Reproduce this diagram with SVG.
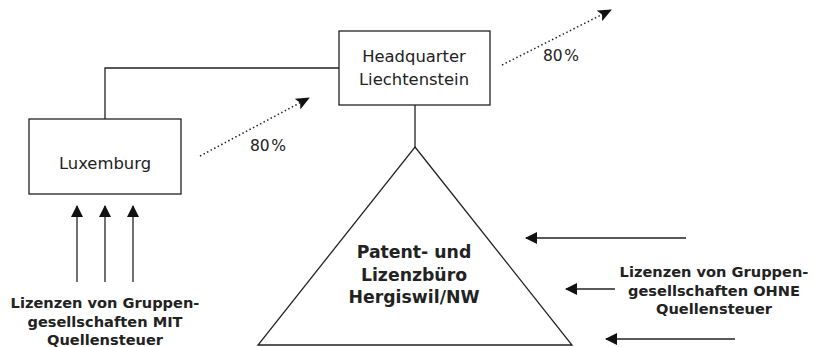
<svg xmlns="http://www.w3.org/2000/svg" width="815" height="347" viewBox="0 0 815 347">
<style>
.box{fill:#fff;stroke:#222;stroke-width:1.3}
.ln{fill:none;stroke:#222;stroke-width:1.3}
.dot{fill:none;stroke:#222;stroke-width:1.5;stroke-dasharray:1.5 2.5}
.t{font-family:"DejaVu Sans",Verdana,sans-serif;font-size:16.4px;fill:#222;text-anchor:middle}
.p{font-family:"DejaVu Sans",Verdana,sans-serif;font-size:15.5px;fill:#222;text-anchor:middle}
.b{font-family:"DejaVu Sans",Verdana,sans-serif;font-size:14.6px;font-weight:bold;fill:#222;text-anchor:middle}
.bt{font-family:"DejaVu Sans",Verdana,sans-serif;font-size:17.3px;font-weight:bold;fill:#222;text-anchor:middle}
</style>
<defs>
<marker id="ah" viewBox="0 0 12 12" refX="11" refY="6" markerWidth="12" markerHeight="12" markerUnits="userSpaceOnUse" orient="auto">
<path d="M0,0 L12,6 L0,12 Z" fill="#111"/>
</marker>
<marker id="ah2" viewBox="0 0 14 12" refX="13" refY="6" markerWidth="14" markerHeight="12" markerUnits="userSpaceOnUse" orient="auto">
<path d="M0,0 L14,6 L0,12 L3,6 Z" fill="#111"/>
</marker>
</defs>
<g id="connectors">
<polyline class="ln" points="339,68 105,68 105,119"/>
<line class="ln" x1="415" y1="105" x2="415" y2="147"/>
<line class="dot" x1="200" y1="156" x2="309" y2="98" marker-end="url(#ah2)"/>
<line class="dot" x1="502" y1="65" x2="611" y2="10" marker-end="url(#ah2)"/>
<line class="ln" x1="77" y1="282" x2="77" y2="206" marker-end="url(#ah)"/>
<line class="ln" x1="105" y1="282" x2="105" y2="206" marker-end="url(#ah)"/>
<line class="ln" x1="133" y1="282" x2="133" y2="206" marker-end="url(#ah)"/>
<line class="ln" x1="686" y1="238" x2="526" y2="238" marker-end="url(#ah)"/>
<line class="ln" x1="615" y1="289" x2="566" y2="289" marker-end="url(#ah)"/>
<line class="ln" x1="735" y1="339" x2="606" y2="339" marker-end="url(#ah)"/>
<text class="p" x="268" y="151">80&#8202;%</text>
<text class="p" x="561" y="61">80&#8202;%</text>
</g>
<g id="hq">
<rect class="box" x="339" y="31" width="151" height="74"/>
<text class="t" x="414" y="62">Headquarter</text>
<text class="t" x="414" y="85">Liechtenstein</text>
</g>
<g id="luxemburg">
<rect class="box" x="29" y="119" width="152" height="75"/>
<text class="t" x="105" y="169">Luxemburg</text>
</g>
<g id="patentbuero">
<polygon class="box" points="415,147 572,345 258,345"/>
<text class="bt" x="414" y="258">Patent- und</text>
<text class="bt" x="414" y="281">Lizenzbüro</text>
<text class="bt" x="414" y="303">Hergiswil/NW</text>
</g>
<g id="mit">
<text class="b" x="105" y="308">Lizenzen von Gruppen-</text>
<text class="b" x="105" y="327">gesellschaften MIT</text>
<text class="b" x="105" y="345">Quellensteuer</text>
</g>
<g id="ohne">
<text class="b" x="714" y="277">Lizenzen von Gruppen-</text>
<text class="b" x="714" y="296">gesellschaften OHNE</text>
<text class="b" x="714" y="314">Quellensteuer</text>
</g>
</svg>
